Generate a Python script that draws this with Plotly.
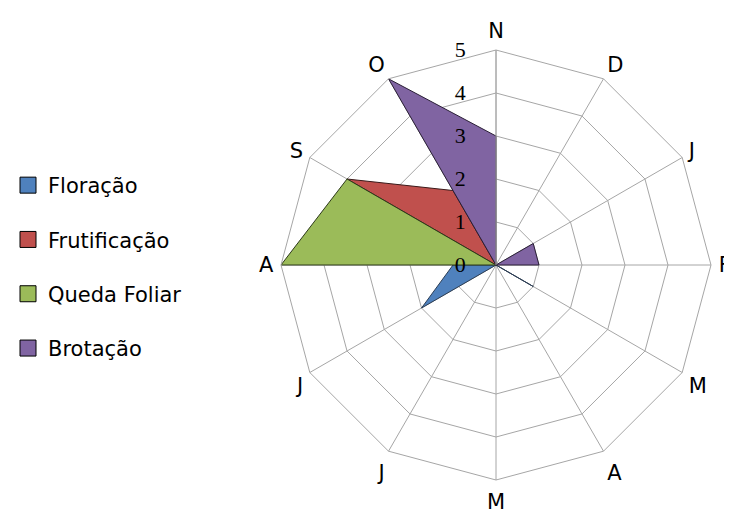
import plotly.graph_objects as go

categories = ["N", "D", "Jan", "F", "Mar", "Apr", "May", "Jun", "Jul", "Aug", "S", "O"]
tick_labels = ["N", "D", "J", "F", "M", "A", "M", "J", "J", "A", "S", "O"]

floracao = [0, 0, 0, 0, 1, 0, 0, 0, 2, 1, 0, 0]
frutificacao = [0, 0, 0, 0, 0, 0, 0, 0, 0, 0, 4, 2]
queda_foliar = [0, 0, 0, 0, 0, 0, 0, 0, 0, 5, 4, 0]
brotacao = [3, 0, 1, 1, 0, 0, 0, 0, 0, 0, 0, 5]

series = [
    ("Floração", floracao, "#4F81BD", "#2c3e55"),
    ("Frutificação", frutificacao, "#C0504D", "#3a1a1a"),
    ("Queda Foliar", queda_foliar, "#9BBB59", "#2d3a1a"),
    ("Brotação", brotacao, "#8064A2", "#2a1f36"),
]

fig = go.Figure()
for i, (name, vals, fill, line) in enumerate(series):
    fig.add_trace(go.Scatterpolar(
        r=vals + [vals[0]],
        theta=categories + [categories[0]],
        name=name,
        mode="lines",
        fill="toself",
        fillcolor=fill,
        line=dict(color=line, width=1),
        showlegend=False,
        legendgroup=str(i),
    ))
# legend entries (square swatches like the original)
for i, (name, vals, fill, line) in enumerate(series):
    fig.add_trace(go.Scatterpolar(
        r=[None], theta=[categories[0]],
        name=name,
        mode="markers",
        marker=dict(symbol="square", size=17, color=fill, line=dict(color="black", width=1)),
        legendgroup=str(i),
        showlegend=True,
    ))

cx, cy, R = 488, 257, 215
W, H = 732, 519
fig.update_layout(
    width=W, height=H,
    margin=dict(l=0, r=0, t=0, b=0),
    paper_bgcolor="white",
    plot_bgcolor="white",
    polar=dict(
        domain=dict(x=[(cx - R) / W, (cx + R) / W], y=[(H - cy - R) / H, (H - cy + R) / H]),
        bgcolor="white",
        gridshape="linear",
        angularaxis=dict(
            type="category",
            categoryorder="array",
            categoryarray=categories,
            tickmode="array",
            tickvals=categories,
            ticktext=tick_labels,
            rotation=90,
            direction="clockwise",
            showline=True,
            linecolor="#a6a6a6",
            linewidth=1,
            gridcolor="#a6a6a6",
            gridwidth=1,
            ticks="outside",
            ticklen=3,
            tickcolor="rgba(0,0,0,0)",
            tickfont=dict(family="DejaVu Sans, sans-serif", size=21, color="black"),
        ),
        radialaxis=dict(
            range=[0, 5],
            tickvals=[0, 1, 2, 3, 4, 5],
            angle=90,
            side="counterclockwise",
            showline=True,
            linecolor="#a6a6a6",
            linewidth=1,
            gridcolor="#a6a6a6",
            gridwidth=1,
            ticks="outside",
            ticklen=22,
            tickcolor="rgba(0,0,0,0)",
            tickangle=90,
            tickfont=dict(family="Liberation Serif, serif", size=22, color="black"),
        ),
    ),
    legend=dict(
        x=0.0, y=0.6975, xanchor="left", yanchor="top",
        font=dict(family="DejaVu Sans, sans-serif", size=21, color="black"),
        tracegroupgap=24,
        itemwidth=30,
        bgcolor="rgba(0,0,0,0)",
    ),
    showlegend=True,
)

fig.write_html("out.html")
